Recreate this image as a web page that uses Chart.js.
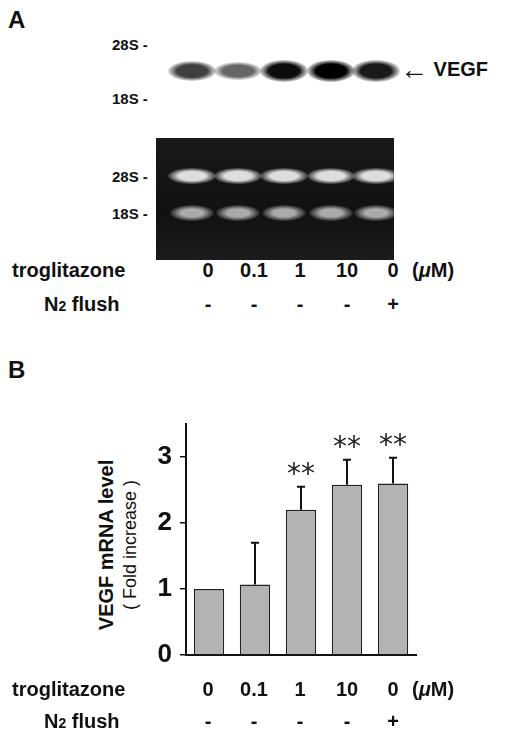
<!DOCTYPE html>
<html><head><meta charset="utf-8">
<script src="https://cdn.jsdelivr.net/npm/chart.js@4/dist/chart.umd.min.js"></script>
<style>
body{margin:0;background:#fff;width:520px;height:743px;position:relative;overflow:hidden;font-family:"Liberation Sans",Arial,sans-serif;}
.t{position:absolute;font-weight:bold;color:#111;white-space:nowrap;}
.band{position:absolute;border-radius:50%;}
</style></head><body>
<div class="t" style="left:8px;top:6px;font-size:24px">A</div>
<div class="t" style="left:112px;top:36px;font-size:15px">28S -</div>
<div class="t" style="left:112px;top:90px;font-size:15px">18S -</div>
<div id="blot" style="position:absolute;left:160px;top:40px;width:232px;height:82px;background:#fff"></div>
<div class="t" style="left:400px;top:58px;font-size:20px;display:flex;align-items:center"><span style="font-size:28px;line-height:20px">&#x2190;</span>&nbsp;VEGF</div>
<div id="gel" style="position:absolute;left:156px;top:138px;width:238px;height:122px;overflow:hidden;background:linear-gradient(#1a1a1a,#111 60%,#1b1b1b)"></div>
<div class="t" style="left:112px;top:168px;font-size:15px">28S -</div>
<div class="t" style="left:112px;top:205px;font-size:15px">18S -</div>
<div id="rowsA"></div>
<div class="t" style="left:8px;top:356px;font-size:24px">B</div>
<div class="t" style="top:545px;font-size:20px;transform:translate(-50%,-50%) rotate(-90deg);left:106px">VEGF mRNA level</div>
<div class="t" style="top:545px;font-size:18px;font-weight:normal;transform:translate(-50%,-50%) rotate(-90deg);left:130px">( Fold increase )</div>
<div style="position:absolute;left:0;top:400px;width:520px;height:280px"><canvas id="c"></canvas></div>
<div id="rowsB"></div>
<script>
const categories=["0","0.1","1","10","0"];
const n2=["-","-","-","-","+"];
const values=[1.0,1.07,2.2,2.58,2.6];
const errTop=[1.0,1.7,2.55,2.96,2.99];
const stars=["","","**","**","**"];
const blotIntensity=[0.75,0.6,0.95,1.0,0.9];
const yTicks=[0,1,2,3];
const xs=[208,254,300,347,393];
const lanes=[192,238,284,331,376];
function rows(id,y1,y2){
  let h=`<div class="t" style="left:12px;top:${y1}px;font-size:20px">troglitazone</div>
  <div class="t" style="left:44px;top:${y2}px;font-size:20px">N<span style="font-size:14px">2</span> flush</div>
  <div class="t" style="left:412px;top:${y1}px;font-size:20px">(<i>&mu;</i>M)</div>`;
  categories.forEach((c,i)=>{h+=`<div class="t" style="left:${xs[i]}px;top:${y1}px;font-size:20px;transform:translateX(-50%)">${c}</div>
  <div class="t" style="left:${xs[i]}px;top:${y2}px;font-size:20px;transform:translateX(-50%)">${n2[i]}</div>`;});
  document.getElementById(id).innerHTML=h;
}
rows("rowsA",259,293);rows("rowsB",678,710);
const blot=document.getElementById('blot'),gel=document.getElementById('gel');
lanes.forEach((x,i)=>{
  const a=blotIntensity[i];
  blot.innerHTML+=`<div class="band" style="left:${x-160-24}px;top:${24-a*4}px;width:48px;height:${14+a*8}px;background:radial-gradient(ellipse,rgba(0,0,0,${a}) 45%,rgba(0,0,0,0) 75%)"></div>`;
  gel.innerHTML+=`<div class="band" style="left:${x-156-24}px;top:30px;width:48px;height:16px;background:radial-gradient(ellipse,#ddd 40%,rgba(200,200,200,0) 75%)"></div>
  <div class="band" style="left:${x-156-22}px;top:67px;width:44px;height:16px;background:radial-gradient(ellipse,#aaa 35%,rgba(150,150,150,0) 75%)"></div>`;
});
const extras={id:'extras',afterDatasetsDraw(ch){
  const ctx=ch.ctx,x=ch.scales.x,y=ch.scales.y;
  ctx.save();ctx.strokeStyle='#111';ctx.lineWidth=2;ctx.fillStyle='#222';
  ctx.font='28px "DejaVu Sans"';ctx.textAlign='center';
  values.forEach((v,i)=>{
    const px=x.getPixelForValue(i);
    if(errTop[i]>v){const y0=y.getPixelForValue(v),y1=y.getPixelForValue(errTop[i]);
      ctx.beginPath();ctx.moveTo(px,y0);ctx.lineTo(px,y1);ctx.moveTo(px-4,y1);ctx.lineTo(px+4,y1);ctx.stroke();}
    if(stars[i])ctx.fillText(stars[i],px,y.getPixelForValue(errTop[i])-4);
  });ctx.restore();}};
new Chart(document.getElementById('c'),{type:'bar',
 data:{labels:categories,datasets:[{data:values,backgroundColor:'#b3b3b3',borderColor:'#222',borderWidth:1.5,barPercentage:0.66,categoryPercentage:1}]},
 options:{responsive:true,maintainAspectRatio:false,animation:false,
  layout:{padding:{top:24,right:104}},
  plugins:{legend:{display:false},tooltip:{enabled:false}},
  scales:{
   x:{afterFit(s){s.height=25},ticks:{display:false},grid:{display:false},border:{color:'#111',width:2}},
   y:{min:0,max:3.5,afterFit(s){s.width=186},afterBuildTicks(s){s.ticks=yTicks.map(v=>({value:v}))},
      ticks:{color:'#111',font:{size:26,weight:'bold',family:'Liberation Sans'},padding:8},
      grid:{drawOnChartArea:false,tickLength:6,color:'#111',lineWidth:1.5},border:{color:'#111',width:2}}}},
 plugins:[extras]});
</script></body></html>
